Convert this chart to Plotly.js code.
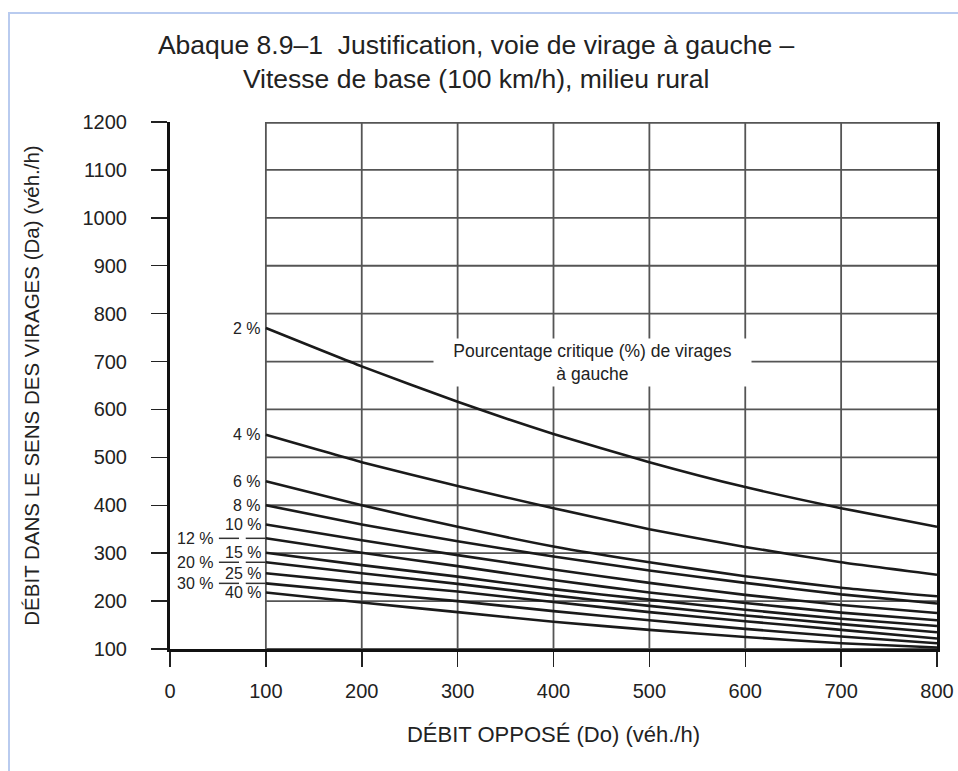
<!DOCTYPE html>
<html>
<head>
<meta charset="utf-8">
<script src="https://cdn.plot.ly/plotly-3.0.1.min.js"></script>
<style>
  html, body { margin: 0; padding: 0; background: #fff; }
  #frame { position: absolute; left: 8px; top: 12px; width: 960px; height: 770px;
           border-left: 2px solid #b9cbef; border-top: 2px solid #b9cbef; pointer-events: none; }
  #chart { width: 958px; height: 771px; }
</style>
</head>
<body>
<div id="chart"></div>
<div id="frame"></div>
<script>
// ---- data ----
const opposedFlow = [100, 200, 300, 400, 500, 600, 700, 800];
const pctLabels = ['2 %', '4 %', '6 %', '8 %', '10 %', '12 %', '15 %', '20 %', '25 %', '30 %', '40 %'];
const flow2  = [770, 690, 616, 549, 490, 438, 394, 355];
const flow4  = [547, 490, 440, 394, 350, 313, 281, 255];
const flow6  = [450, 400, 355, 314, 281, 252, 228, 210];
const flow8  = [400, 360, 325, 293, 264, 238, 214, 195];
const flow10 = [360, 327, 296, 266, 238, 213, 192, 175];
const flow12 = [331, 301, 273, 244, 218, 196, 176, 160];
const flow15 = [301, 275, 251, 225, 203, 182, 163, 148];
const flow20 = [281, 258, 236, 212, 190, 170, 152, 135];
const flow25 = [258, 238, 220, 198, 177, 158, 140, 122];
const flow30 = [237, 218, 200, 179, 160, 142, 126, 112];
const flow40 = [218, 197, 177, 157, 140, 125, 112, 103];
const allSeries = [flow2, flow4, flow6, flow8, flow10, flow12, flow15, flow20, flow25, flow30, flow40];
// labels drawn with a leader line from the left column
const leaderLabels = ['12 %', '20 %', '30 %'];

const xTicks = [0, 100, 200, 300, 400, 500, 600, 700, 800];
const yTicks = [100, 200, 300, 400, 500, 600, 700, 800, 900, 1000, 1100, 1200];
const gridXStart = 100;

const titleText = 'Abaque 8.9–1  Justification, voie de virage à gauche –<br>Vitesse de base (100 km/h), milieu rural';
const xTitle = 'DÉBIT OPPOSÉ (Do) (véh./h)';
const yTitle = 'DÉBIT DANS LE SENS DES VIRAGES (Da) (véh./h)';
const noteText = 'Pourcentage critique (%) de virages<br>à gauche';

// ---- build ----
const FONT = 'Liberation Sans, Arial, Helvetica, sans-serif';
const xMin = xTicks[0], xMax = xTicks[xTicks.length - 1];
const yMin = yTicks[0], yMax = yTicks[yTicks.length - 1];

const shapes = [];
xTicks.filter(v => v >= gridXStart).forEach(v => {
  shapes.push({type: 'line', xref: 'x', yref: 'y', x0: v, x1: v, y0: yMin, y1: yMax,
    line: {color: '#555555', width: v === xMax ? 0 : 1.8}, layer: 'below'});
});
yTicks.forEach(v => {
  shapes.push({type: 'line', xref: 'x', yref: 'y', x0: gridXStart, x1: xMax, y0: v, y1: v,
    line: {color: '#555555', width: v === yMax ? 3.6 : 1.8}, layer: 'below'});
});

const traces = allSeries.map((s, i) => ({
  type: 'scatter', mode: 'lines', x: opposedFlow, y: s, name: pctLabels[i],
  line: {color: '#1a1a1a', width: 2.6, shape: 'spline', smoothing: 0.5},
  hoverinfo: 'x+y+name', showlegend: false
}));

const LABSIZE = 16;
const annotations = [];
allSeries.forEach((s, i) => {
  const lab = pctLabels[i];
  if (leaderLabels.includes(lab)) {
    annotations.push({xref: 'x', yref: 'y', x: 47, y: s[0], text: lab, showarrow: false,
      xanchor: 'right', yanchor: 'middle', font: {family: FONT, size: LABSIZE, color: '#222'}});
    shapes.push({type: 'line', xref: 'x', yref: 'y', x0: 51, x1: 72, y0: s[0], y1: s[0],
      line: {color: '#333', width: 1.5}});
    shapes.push({type: 'line', xref: 'x', yref: 'y', x0: 79, x1: opposedFlow[0], y0: s[0], y1: s[0],
      line: {color: '#333', width: 1.5}});
  } else {
    annotations.push({xref: 'x', yref: 'y', x: opposedFlow[0], y: s[0], text: lab, showarrow: false,
      xanchor: 'right', yanchor: 'middle', xshift: -3, font: {family: FONT, size: LABSIZE, color: '#222'}});
  }
});
annotations.push({xref: 'x', yref: 'y', x: 441, y: 699, text: noteText, showarrow: false,
  xanchor: 'center', yanchor: 'middle', width: 317, height: 47, bgcolor: '#ffffff', borderpad: 0,
  align: 'center', font: {family: FONT, size: 17.5, color: '#222'}});

const layout = {
  width: 958, height: 771,
  margin: {l: 170, r: 21, t: 122, b: 122},
  paper_bgcolor: '#ffffff', plot_bgcolor: '#ffffff',
  font: {family: FONT, color: '#222'},
  title: {text: titleText, font: {family: FONT, size: 26.5, color: '#222'},
    x: 0.497, xref: 'container', xanchor: 'center', y: 0.93, yref: 'container', yanchor: 'middle'},
  xaxis: {range: [xMin, xMax], tickvals: xTicks, ticktext: xTicks.map(String),
    showgrid: false, zeroline: false, showline: true, linecolor: '#111', linewidth: 3,
    ticks: 'outside', ticklen: 15, tickwidth: 1.5, tickcolor: '#222', ticklabelstandoff: 7,
    tickfont: {family: FONT, size: 20, color: '#222'},
    title: {text: xTitle, font: {family: FONT, size: 22, color: '#222'}, standoff: 26}},
  yaxis: {range: [yMin, yMax], tickvals: yTicks, ticktext: yTicks.map(String),
    showgrid: false, zeroline: false, showline: true, mirror: true, linecolor: '#111', linewidth: 3,
    ticks: 'outside', ticklen: 16, tickwidth: 1.5, tickcolor: '#222', ticklabelstandoff: 20,
    tickfont: {family: FONT, size: 20, color: '#222'},
    title: {text: yTitle, font: {family: FONT, size: 20.5, color: '#222'}, standoff: 38}},
  shapes: shapes,
  annotations: annotations,
  showlegend: false
};

Plotly.newPlot('chart', traces, layout, {displayModeBar: false, staticPlot: true});
</script>
</body>
</html>
